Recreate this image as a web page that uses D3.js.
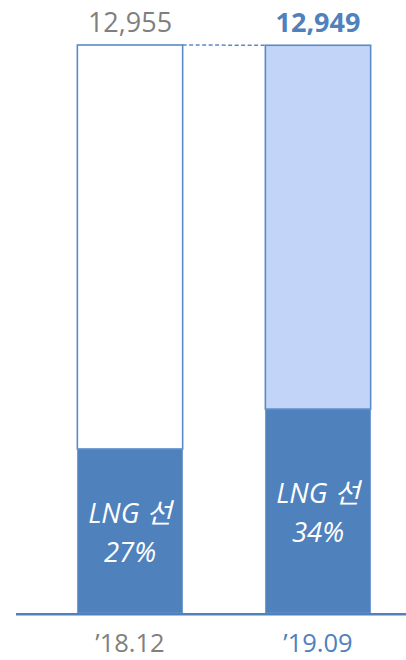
<!DOCTYPE html>
<html><head><meta charset="utf-8">
<script src="https://cdn.jsdelivr.net/npm/d3@7"></script>
<style>html,body{margin:0;padding:0;background:#fff;}svg{display:block;}</style>
</head><body>
<svg id="c" width="406" height="660"></svg>
<script>
const categories = ["’18.12", "’19.09"];
const totals = [12955, 12949];
const totalLabels = ["12,955", "12,949"];
const lngValues = [3740, 4650];
const lngLabels = ["27%", "34%"];
const lngName = "LNG 선";

const svg = d3.select("#c");
const blue = "#4f81bd";
const x = d3.scaleBand().domain(categories).range([36, 412]).paddingInner(0.44).paddingOuter(0.22);
const y = d3.scaleLinear().domain([0, d3.max(totals)]).range([613, 45]);
const font = "'Open Sans', 'Noto Sans CJK KR', sans-serif";

// upper (total) segments
svg.selectAll("rect.tot").data(categories).join("rect")
  .attr("x", d => x(d)).attr("width", x.bandwidth())
  .attr("y", (d,i) => y(totals[i])).attr("height", (d,i) => y(lngValues[i]) - y(totals[i]))
  .attr("fill", (d,i) => i === 0 ? "#ffffff" : "#c2d4f7")
  .attr("stroke", "#5a8ac6").attr("stroke-width", 1.6);

// LNG segments
svg.selectAll("rect.lng").data(categories).join("rect")
  .attr("x", d => x(d)).attr("width", x.bandwidth())
  .attr("y", (d,i) => y(lngValues[i])).attr("height", (d,i) => y(0) - y(lngValues[i]))
  .attr("fill", blue).attr("stroke", "#6f9ad0").attr("stroke-width", 0.8);

// axis line
svg.append("line").attr("x1", 16).attr("x2", 406).attr("y1", y(0) + 1.3).attr("y2", y(0) + 1.3)
  .attr("stroke", blue).attr("stroke-width", 2.6);

// dashed connector
svg.append("line")
  .attr("x1", x(categories[0]) + x.bandwidth()).attr("x2", x(categories[1]))
  .attr("y1", y(totals[0])).attr("y2", y(totals[1]))
  .attr("stroke", "#5a8ac6").attr("stroke-width", 1.5).attr("stroke-dasharray", "4,2.5");

// total labels
svg.selectAll("text.tot").data(categories).join("text")
  .attr("x", d => x(d) + x.bandwidth()/2).attr("y", (d,i) => y(totals[i]) - 13)
  .attr("text-anchor", "middle").attr("font-family", font).attr("font-size", 27)
  .attr("font-weight", (d,i) => i === 1 ? 700 : 400)
  .attr("fill", (d,i) => i === 1 ? blue : "#7f7f7f")
  .text((d,i) => totalLabels[i]);

// LNG labels
categories.forEach((d,i) => {
  const cx = x(d) + x.bandwidth()/2;
  const cy = (y(lngValues[i]) + y(0)) / 2 + 2;
  const g = svg.append("text").attr("text-anchor", "middle").attr("font-family", font)
    .attr("font-size", 27.5).attr("font-style", "italic").attr("fill", "#ffffff");
  g.append("tspan").attr("x", cx).attr("y", cy - 10).text(lngName);
  g.append("tspan").attr("x", cx).attr("y", cy + 29).text(lngLabels[i]);
});

// category labels
svg.selectAll("text.cat").data(categories).join("text")
  .attr("x", d => x(d) + x.bandwidth()/2).attr("y", 652)
  .attr("text-anchor", "middle").attr("font-family", font).attr("font-size", 25.5)
  .attr("fill", (d,i) => i === 1 ? blue : "#7f7f7f")
  .text(d => d);
</script>
</body></html>
